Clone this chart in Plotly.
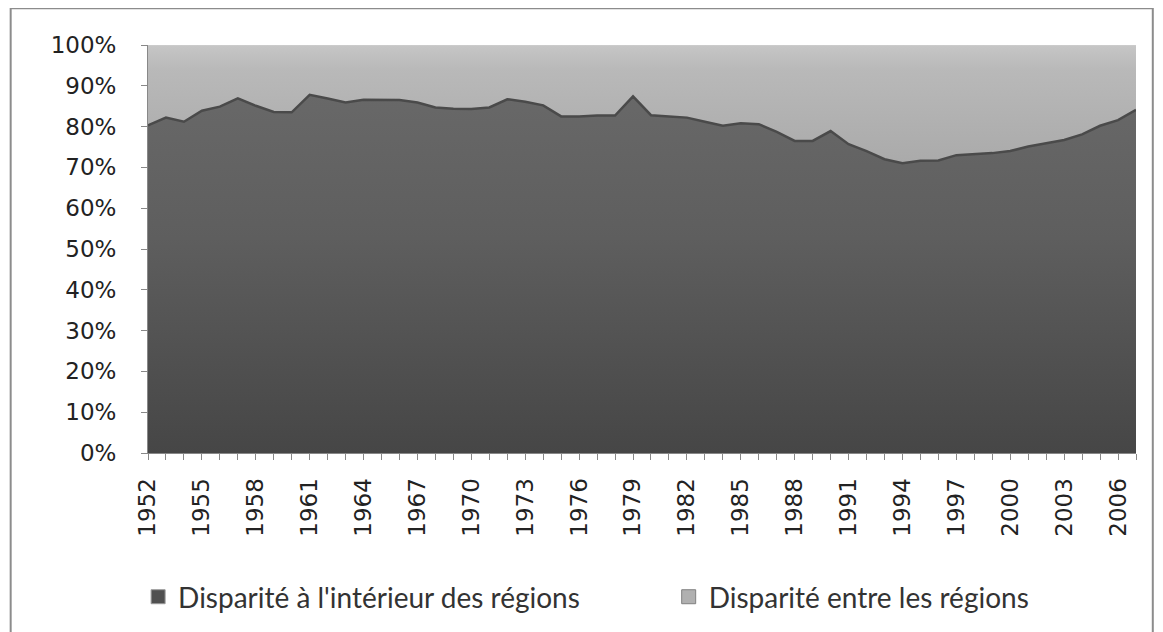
import plotly.graph_objects as go

years = list(range(1952, 2008))
within = [80.3, 82.2, 81.2, 83.9, 84.9, 86.9, 85.1, 83.6, 83.5, 87.8,
          86.9, 85.9, 86.6, 86.6, 86.5, 85.9, 84.7, 84.4, 84.3, 84.7,
          86.7, 86.1, 85.2, 82.5, 82.5, 82.7, 82.7, 87.4, 82.8, 82.5,
          82.2, 81.2, 80.2, 80.8, 80.6, 78.7, 76.5, 76.5, 78.9, 75.7,
          74.0, 72.0, 71.0, 71.6, 71.7, 73.0, 73.2, 73.5, 74.0, 75.1,
          75.9, 76.7, 78.1, 80.2, 81.6, 84.1]
between = [round(100 - v, 1) for v in within]
tick_years = list(range(1952, 2007, 3))
y_ticks = list(range(0, 101, 10))
names = ["Disparité à l'intérieur des régions", "Disparité entre les régions"]

fig = go.Figure()
fig.add_trace(go.Scatter(
    x=years, y=within, name=names[0], stackgroup="one", mode="lines",
    line=dict(color="#4a4a4a", width=2.5),
    fillcolor="#606060",
    fillgradient=dict(type="vertical",
                      colorscale=[[0, "#464646"], [0.6, "#5e5e5e"], [1, "#686868"]]),
    showlegend=False,
    hovertemplate="%{x}: %{y:.1f}%<extra></extra>"))
fig.add_trace(go.Scatter(
    x=years, y=between, name=names[1], stackgroup="one", mode="lines",
    line=dict(color="#cfcfcf", width=1),
    fillcolor="#b4b4b4",
    fillgradient=dict(type="vertical",
                      colorscale=[[0, "#aaaaaa"], [0.8, "#b9b9b9"], [1, "#c6c6c6"]]),
    showlegend=False,
    hovertemplate="%{x}: %{y:.1f}%<extra></extra>"))

# legend entries (square swatches as in the original)
fig.add_trace(go.Scatter(
    x=[None], y=[None], mode="markers", name=names[0], legend="legend",
    marker=dict(symbol="square", size=14, color="#505050",
                line=dict(color="#9a9a9a", width=1))))
fig.add_trace(go.Scatter(
    x=[None], y=[None], mode="markers", name=names[1], legend="legend2",
    marker=dict(symbol="square", size=14, color="#b0b0b0",
                line=dict(color="#808080", width=1))))

legend_style = dict(orientation="h", y=-0.353, xanchor="left", yanchor="middle",
                    font=dict(family="Lato", size=28, color="#333333"),
                    itemwidth=30, bgcolor="rgba(0,0,0,0)")

fig.update_layout(
    width=1163, height=632,
    margin=dict(l=140, r=35, t=37, b=187),
    paper_bgcolor="white", plot_bgcolor="white",
    font=dict(family="DejaVu Sans", color="#333333"),
    showlegend=True,
    legend=dict(x=-0.010, **legend_style),
    legend2=dict(x=0.527, **legend_style),
    shapes=[dict(type="rect", xref="paper", yref="paper",
                 x0=-0.139, x1=1.017, y0=-0.47, y1=1.09,
                 line=dict(color="#8c8c8c", width=2), layer="below")],
)
fig.update_xaxes(
    range=[1952, 2007], tickvals=tick_years, ticktext=[str(t) for t in tick_years],
    tickangle=-90, tickfont=dict(size=23, family="DejaVu Sans", color="#222222"),
    ticks="outside", ticklen=6, tickcolor="#888888", ticklabelstandoff=9,
    minor=dict(dtick=1, tick0=1952, ticks="outside", ticklen=6, tickcolor="#888888"),
    showline=True, linecolor="#888888", showgrid=False, zeroline=False)
fig.update_yaxes(
    range=[0, 100], tickvals=y_ticks, ticktext=[f"{v}%" for v in y_ticks],
    tickfont=dict(size=23, family="DejaVu Sans", color="#222222"),
    ticks="outside", ticklen=6, tickcolor="#888888", ticklabelstandoff=20,
    showline=True, linecolor="#888888", showgrid=False, zeroline=False)

fig.write_html("out.html")
